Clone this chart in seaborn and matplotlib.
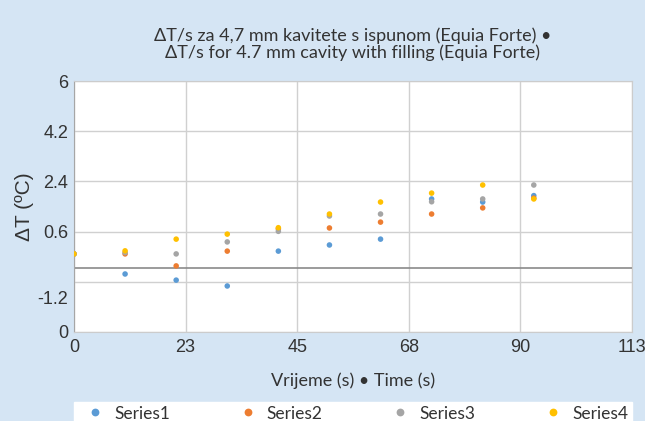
import numpy as np
import pandas as pd
import matplotlib.pyplot as plt
import seaborn as sns

# data
time_s = [0, 10.3, 20.6, 30.9, 41.2, 51.5, 61.8, 72.1, 82.4, 92.7]
series1 = [-0.20, -0.92, -1.14, -1.35, -0.10, 0.12, 0.33, 1.77, 1.66, 1.89]
series2 = [-0.20, -0.20, -0.63, -0.10, 0.70, 0.73, 0.94, 1.23, 1.45, 1.80]
series3 = [-0.20, -0.15, -0.20, 0.23, 0.61, 1.16, 1.23, 1.67, 1.77, 2.27]
series4 = [-0.20, -0.09, 0.33, 0.51, 0.74, 1.23, 1.66, 1.98, 2.27, 1.77]
series_names = ['Series1', 'Series2', 'Series3', 'Series4']
colors = ['#5b9bd5', '#ed7d31', '#a5a5a5', '#ffc000']

x_ticks = [0, 22.5, 45, 67.5, 90, 112.5]
x_labels = ['0', '23', '45', '68', '90', '113']
y_grid = [-3, -1.2, 0.6, 2.4, 4.2, 6]
y_grid_labels = ['0', '', '0.6', '2.4', '4.2', '6']
# the "-1.2" label sits below its gridline in the original
odd_label_pos = [-1.75]
odd_label = ['-1.2']
zero_line = -0.71

df = pd.DataFrame({
    'time': time_s * 4,
    'dT': series1 + series2 + series3 + series4,
    'series': np.repeat(series_names, len(time_s)),
})

bg = '#d5e5f4'
sns.set_style('white')
fig = plt.figure(figsize=(6.45, 4.21), dpi=100, facecolor=bg)
ax = fig.add_axes([74 / 645, 1 - 332 / 421, 558 / 645, 251 / 421])
ax.set_facecolor('white')

sns.scatterplot(data=df, x='time', y='dT', hue='series', palette=colors,
                s=16, linewidth=0, ax=ax, legend=True, zorder=3)

ax.set_xlim(0, 112.5)
ax.set_ylim(-3, 6)
ax.set_xticks(x_ticks)
ax.set_xticklabels(x_labels)
ax.set_yticks(y_grid)
ax.set_yticklabels(y_grid_labels)
ax.set_yticks(odd_label_pos, minor=True)
ax.set_yticklabels(odd_label, minor=True)
ax.grid(False)
ax.grid(True, which='major', color='#d0d0d0', linewidth=1.0, zorder=0)
ax.set_axisbelow(True)
ax.tick_params(which='both', length=0)
ax.tick_params(axis='x', pad=5, labelsize=13, colors='#333333')
ax.tick_params(axis='y', which='both', pad=4, labelsize=13, colors='#333333')
for lab in (ax.get_xticklabels() + ax.get_yticklabels()
            + ax.get_yticklabels(minor=True)):
    lab.set_fontfamily('Liberation Sans')

ax.axhline(zero_line, color='#8a8a8a', linewidth=1.2, zorder=1)

for side in ['top', 'right', 'bottom']:
    ax.spines[side].set_color('#cccccc')
ax.spines['left'].set_color('#a6a6a6')

ax.set_xlabel('Vrijeme (s) • Time (s)', fontsize=13, family='Lato',
              color='#333333', labelpad=12)
ax.set_ylabel('ΔT (ºC)', fontsize=15, family='Liberation Sans',
              color='#333333', labelpad=3)

fig.text(353 / 645, 1 - 44 / 421,
         'ΔT/s za 4,7 mm kavitete s ispunom (Equia Forte) •\nΔT/s for 4.7 mm cavity with filling (Equia Forte)',
         ha='center', va='center', fontsize=13, family='Lato',
         color='#333333', linespacing=1.05)

handles, labels = ax.get_legend_handles_labels()
ax.get_legend().remove()
leg = fig.legend(handles, labels, loc='lower left', ncol=4, mode='expand',
                 bbox_to_anchor=(74 / 645, -4 / 421, 558 / 645, 24 / 421),
                 frameon=True, fancybox=False, borderaxespad=0, framealpha=1,
                 borderpad=0.2, handletextpad=0.1, markerscale=1.4,
                 prop={'family': 'Lato', 'size': 12.5})
leg.get_frame().set_facecolor('white')
leg.get_frame().set_edgecolor('white')
for t in leg.get_texts():
    t.set_color('#333333')

fig.savefig('out.png', dpi=100, facecolor=bg)
